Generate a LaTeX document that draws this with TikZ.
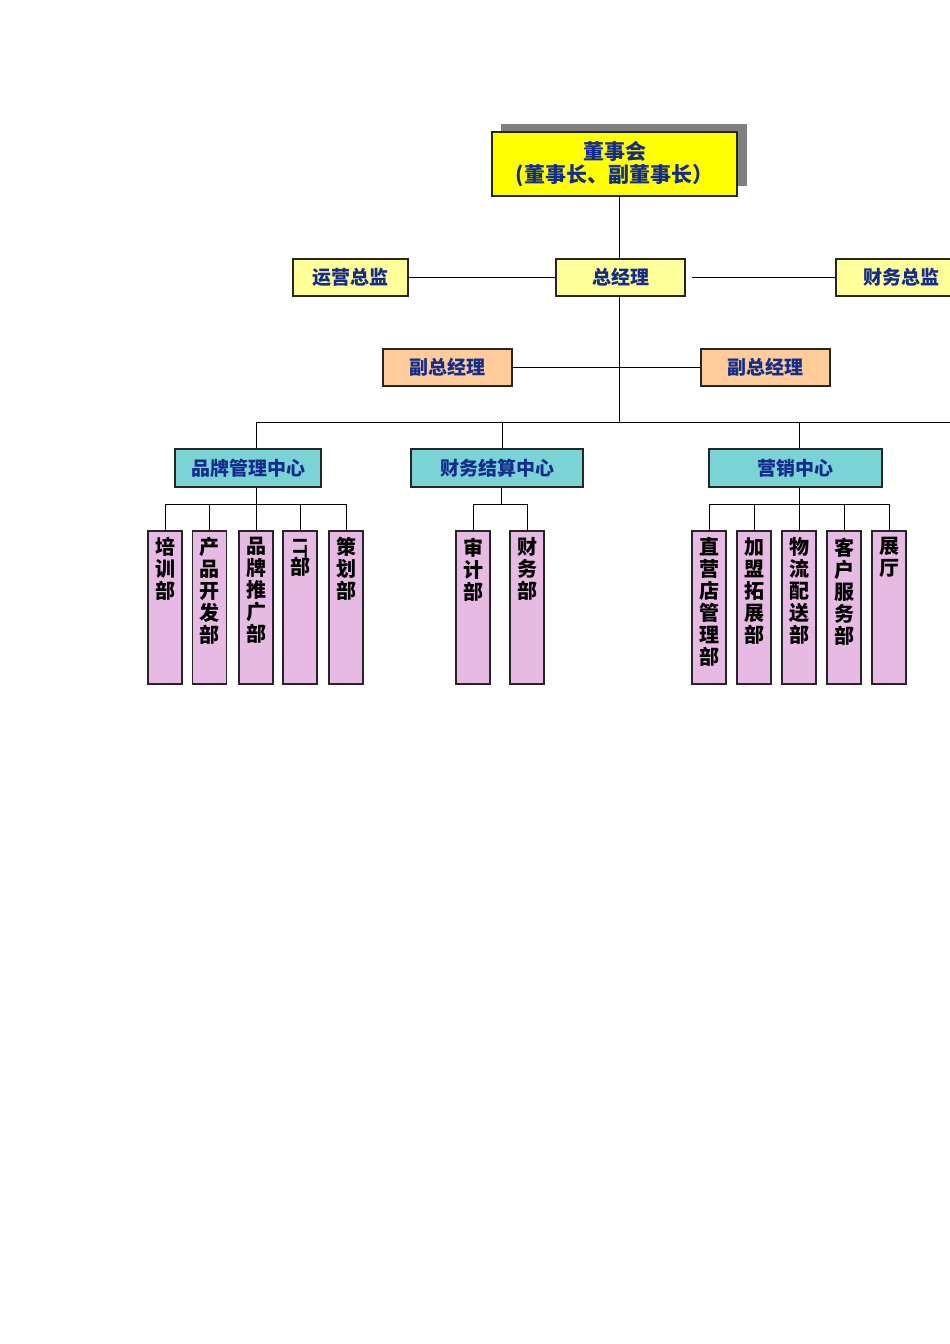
\documentclass[tikz,border=0pt]{standalone}
\usepackage{fontspec}
\newfontfamily\cjk{Noto Sans CJK SC}
\definecolor{navy}{RGB}{20,45,140}
\definecolor{topyellow}{RGB}{255,255,0}
\definecolor{lightyellow}{RGB}{255,255,153}
\definecolor{peach}{RGB}{255,204,153}
\definecolor{teal}{RGB}{122,212,214}
\definecolor{lilac}{RGB}{230,186,226}
\definecolor{shadowgray}{RGB}{128,128,128}
\tikzset{
  box/.style={draw=black!85, line width=1.1pt, inner sep=0pt, text=navy,
    font=\cjk\bfseries\fontsize{19}{21}\selectfont, minimum height=37pt},
  topbox/.style={box, fill=topyellow, minimum width=245pt, minimum height=64pt,
    font=\cjk\bfseries\fontsize{21}{23}\selectfont, align=center},
  gmbox/.style={box, fill=lightyellow, minimum width=129pt},
  vpbox/.style={box, fill=peach, minimum width=129pt},
  ctrbox/.style={box, fill=teal, minimum height=38pt},
  deptbox/.style={draw=black!85, line width=1.1pt, fill=lilac, minimum width=34pt,
    minimum height=153pt, inner sep=0pt},
  depttext/.style={anchor=north, inner sep=0pt, align=center, text=black,
    font=\cjk\bfseries\fontsize{20}{22}\selectfont},
  conn/.style={line width=1pt, draw=black}
}
\begin{document}
\begin{tikzpicture}[x=1pt,y=-1pt]
\useasboundingbox (0,0) rectangle (950,1344);
\clip (0,0) rectangle (950,1344);
\fill[white] (0,0) rectangle (950,1344);
% shadow of the top box
\fill[shadowgray] (501,124) rectangle (747,186);
\node[topbox] (board) at (614.5,164) {董事会\\(董事长、副董事长）};

\node[gmbox] (gm) at (620.5,277.5) {总经理};
\node[gmbox, minimum width=115pt] (yy) at (350.5,277.5) {运营总监};
\node[gmbox, minimum width=130pt] (cw) at (901,277.5) {财务总监};

\node[vpbox] (vpl) at (447.5,367.5) {副总经理};
\node[vpbox] (vpr) at (765.5,367.5) {副总经理};

\node[ctrbox, minimum width=146pt] (c1) at (248,468) {品牌管理中心};
\node[ctrbox, minimum width=172pt] (c2) at (497,468) {财务结算中心};
\node[ctrbox, minimum width=173pt] (c3) at (795.5,468) {营销中心};

% departments
\foreach \n/\x in {d1/165,d2/209.5,d3/256,d4/300,d5/346,d6/473,d7/527,d8/709,d9/754,d10/799,d11/844,d12/889}
  \node[deptbox] (\n) at (\x,607.5) {};
\node[depttext] at ([yshift=-7pt]d1.north) {培\\训\\部};
\node[depttext] at ([yshift=-7pt]d2.north) {产\\品\\开\\发\\部};
\node[depttext] at ([yshift=-7pt]d3.north) {品\\牌\\推\\广\\部};
\node[depttext] at ([yshift=-7pt]d4.north) {\rotatebox{-90}{\bfseries\sffamily IT}\\[-3pt]部};
\node[depttext] at ([yshift=-7pt]d5.north) {策\\划\\部};
\node[depttext] at ([yshift=-7pt]d6.north) {审\\计\\部};
\node[depttext] at ([yshift=-7pt]d7.north) {财\\务\\部};
\node[depttext] at ([yshift=-7pt]d8.north) {直\\营\\店\\管\\理\\部};
\node[depttext] at ([yshift=-7pt]d9.north) {加\\盟\\拓\\展\\部};
\node[depttext] at ([yshift=-7pt]d10.north) {物\\流\\配\\送\\部};
\node[depttext] at ([yshift=-7pt]d11.north) {客\\户\\服\\务\\部};
\node[depttext] at ([yshift=-7pt]d12.north) {展\\厅};

% connectors
\coordinate (bus) at (619,422);
\coordinate (busR) at (950,422);
\draw[conn] (board.south -| bus) -- (gm.north -| bus);
\draw[conn] (gm.south -| bus) -- (bus);
\draw[conn] (yy.east) -- (gm.west);
\draw[conn] ([xshift=6pt]gm.east) -- (cw.west);
\draw[conn] (vpl.east) -- (vpr.west);
\draw[conn] (d3.north |- c1.north) |- (busR);
\draw[conn] (c2.north -| 502,0) -- (502,422);
\draw[conn] (d10.north |- c3.north) -- (d10.north |- bus);

% sub buses
\draw[conn] (d3.north |- c1.south) -- (d3.north |- 0,504);
\draw[conn] (d1.north) |- (d5.north |- 0,504) -- (d5.north);
\foreach \n in {d2,d3,d4} \draw[conn] (\n.north) -- (\n.north |- 0,504);

\draw[conn] (c2.south -| 501,0) -- (501,504);
\draw[conn] (d6.north) |- (d7.north |- 0,504) -- (d7.north);

\draw[conn] (d10.north |- c3.south) -- (d10.north |- 0,504);
\draw[conn] (d8.north) |- (d12.north |- 0,504) -- (d12.north);
\foreach \n in {d9,d10,d11} \draw[conn] (\n.north) -- (\n.north |- 0,504);
\end{tikzpicture}
\end{document}
